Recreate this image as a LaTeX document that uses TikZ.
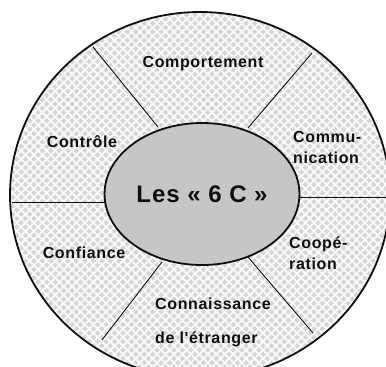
\documentclass[tikz,border=0pt]{standalone}
\usepackage{fontspec}
\setmainfont{Liberation Sans}
\newfontfamily\ringfont[LetterSpace=4]{Liberation Sans}
\usepackage{tikz}
\usetikzlibrary{shapes.geometric, patterns.meta}
\definecolor{ringgray}{RGB}{214,214,214}
\definecolor{hubgray}{RGB}{198,198,198}
\definecolor{inkdark}{RGB}{15,15,15}
\tikzset{
  sector/.style={font=\ringfont\bfseries\fontsize{16}{18}\selectfont,
    text=inkdark, inner sep=0pt},
  divider/.style={line width=0.9pt, color=inkdark},
  rim/.style={line width=1.8pt, color=inkdark}
}

\begin{document}
\begin{tikzpicture}[x=1pt, y=-1pt]
  \useasboundingbox (0,0) rectangle (386,367);
  \clip (0,0) rectangle (386,367);

  % Outer ring with texture
  \fill[ringgray] (200,195) ellipse [x radius=190pt, y radius=183pt];
  \fill[pattern={Hatch[angle=45, distance=6pt, line width=1.8pt]}, pattern color=white!88!ringgray]
    (200,195) ellipse [x radius=190pt, y radius=183pt];

  % Dividers
  \draw[divider] (12,202) -- (125,202);
  \draw[divider] (280,197) -- (386,197);
  \draw[divider] (93,47) -- (158,127);
  \draw[divider] (312,53) -- (248,128);
  \draw[divider] (162,262) -- (102,340);
  \draw[divider] (248,257) -- (313,333);

  \draw[rim] (200,195) ellipse [x radius=190pt, y radius=183pt];

  % Hub
  \node[ellipse, draw=inkdark, line width=1.8pt, fill=hubgray,
    minimum width=159pt, minimum height=142pt,
    font=\ringfont\bfseries\fontsize{24}{27}\selectfont, text=inkdark]
    (hub) at (202,194) {Les « 6 C »};

  % Sector labels
  \node[sector] (comportement) at (203,64) {Comportement};
  \node[sector] (controle) at (82,142) {Contrôle};
  \node[sector, anchor=west, align=left] (communication) at (293,147)
    {Commu-\\[3pt]nication};
  \node[sector, anchor=west, align=left] (cooperation) at (289,253)
    {Coopé-\\[3pt]ration};
  \node[sector] (confiance) at (84,253) {Confiance};
  \node[sector, anchor=west, align=left] (connaissance) at (155,322)
    {Connaissance\\[16pt]de l'étranger};
\end{tikzpicture}
\end{document}
